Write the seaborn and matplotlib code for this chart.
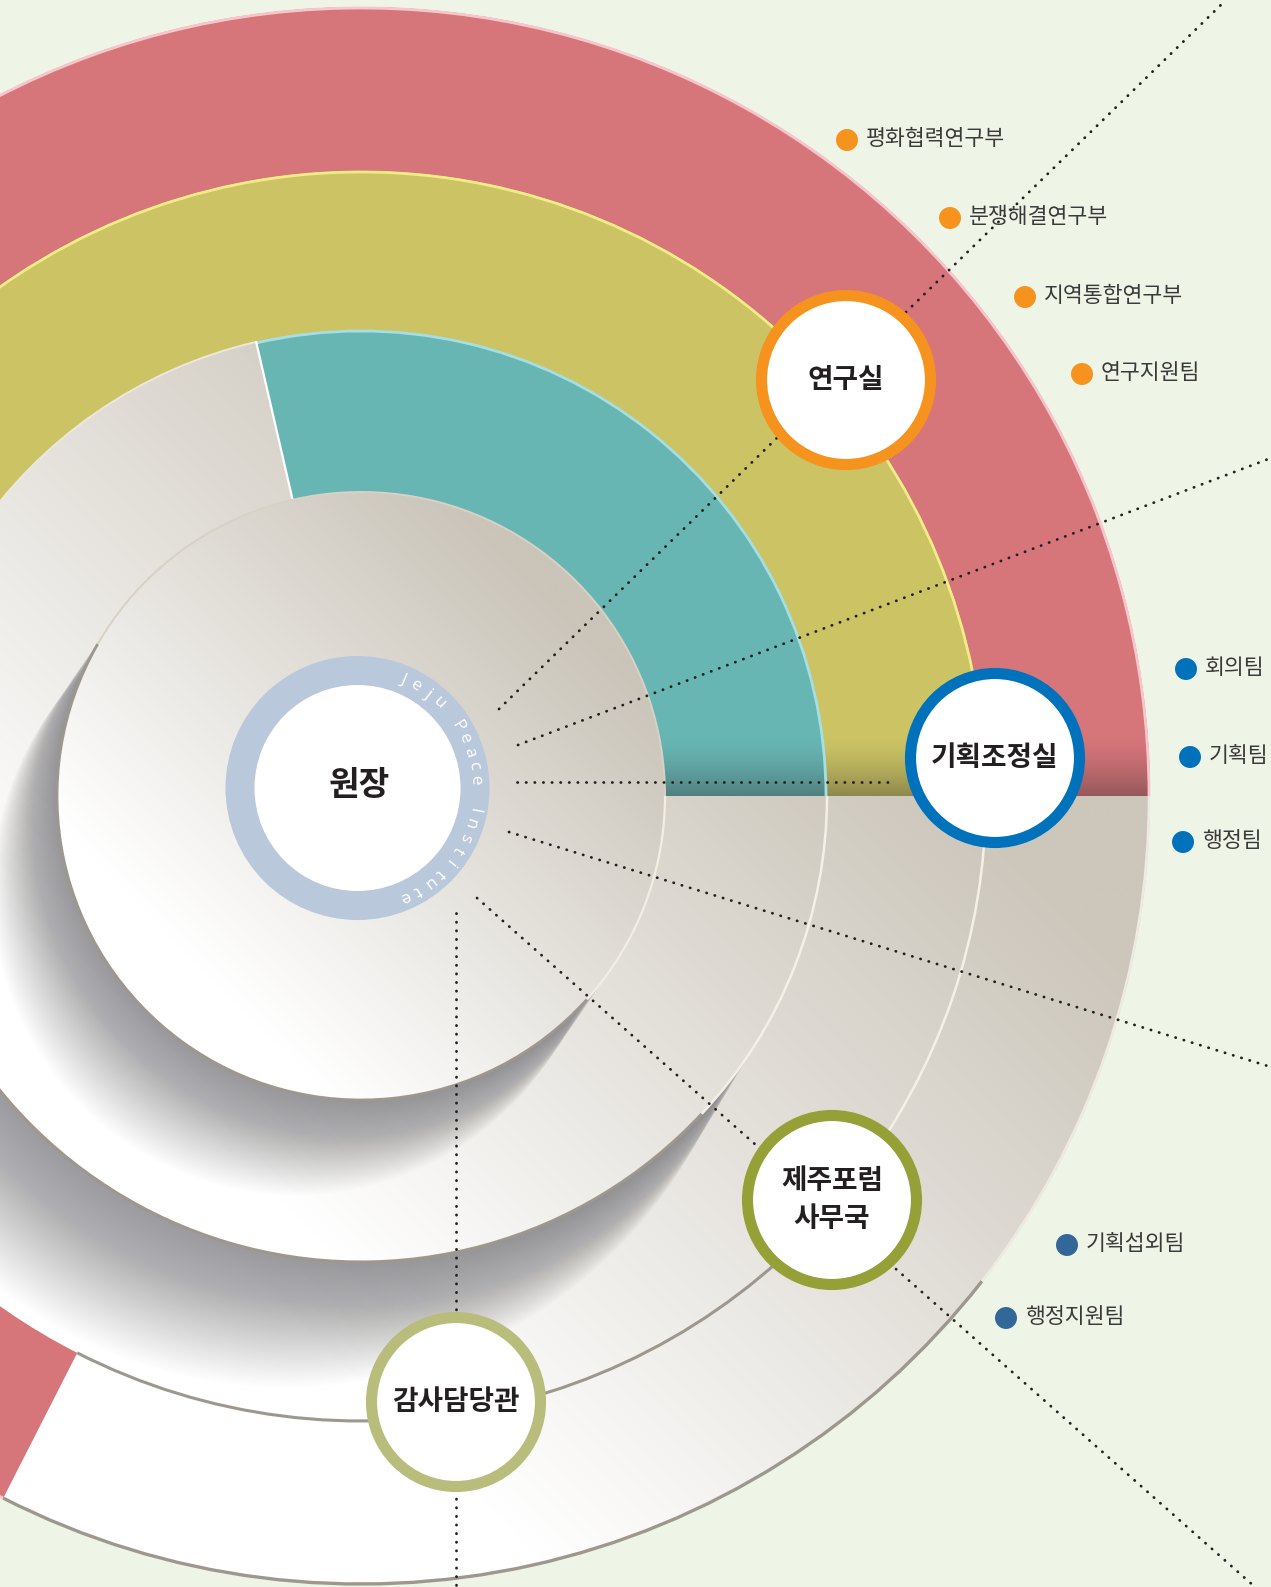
import numpy as np
import pandas as pd
import matplotlib.pyplot as plt
import seaborn as sns
from matplotlib.patches import Circle, Wedge, Arc

# 캔버스 / 중심
W, H = 1271, 1587
CX, CY = 361, 796
BG = '#eef4e6'

# 링 구조 (반지름, 색 구간 끝 각도)
sector_names = ['teal', 'yellow', 'red']
sector_inner = [304, 466, 625]
sector_outer = [466, 625, 789]
sector_end = [103, 180, 243]
sector_colors = ['#68b6b4', '#cbc364', '#d6757a']
sector_edges = ['#a6dfe2', '#f1ec86', '#f7c6ca']

# 부서 원
node_labels = ['연구실', '기획조정실', '제주포럼\n사무국', '감사담당관']
node_x = [846, 995, 832, 456]
node_y = [380, 758, 1200, 1402]
node_colors = ['#f6921e', '#0072bc', '#95a037', '#b9bd7c']

# 하위 팀
team_labels = ['평화협력연구부', '분쟁해결연구부', '지역통합연구부', '연구지원팀',
               '회의팀', '기획팀', '행정팀', '기획섭외팀', '행정지원팀']
team_x = [847, 950, 1025, 1082, 1186, 1190, 1183, 1067, 1006]
team_y = [140, 218, 297, 374, 669, 757, 842, 1245, 1318]
team_group = ['연구실'] * 4 + ['기획조정실'] * 3 + ['제주포럼'] * 2

# 점선 연결선
line_x0 = [499, 518, 517, 509, 477, 456]
line_y0 = [709, 745, 782, 832, 898, 913]
line_x1 = [1226, 1271, 894, 1271, 1255, 456]
line_y1 = [0, 458, 782, 1067, 1587, 1587]

sns.set_theme(style='white')
plt.rcParams['font.family'] = ['Noto Sans CJK KR', 'DejaVu Sans']

fig = plt.figure(figsize=(W / 100, H / 100), dpi=100, facecolor=BG)
ax = fig.add_axes([0, 0, 1, 1])
ax.set_facecolor(BG)

gx, gy = np.meshgrid(np.linspace(0, W, 420), np.linspace(0, H, 520))


def grad_img(p0, p1, light, dark):
    p = (gx - gy) / np.sqrt(2)
    t = np.clip((p - p0) / (p1 - p0), 0, 1)[..., None]
    a = np.array(plt.matplotlib.colors.to_rgb(light))
    b = np.array(plt.matplotlib.colors.to_rgb(dark))
    return (1 - t) * a + t * b


def paint(patch, img, z):
    patch.set_facecolor('none')
    patch.set_edgecolor('none')
    ax.add_patch(patch)
    im = ax.imshow(img, extent=(0, W, H, 0), origin='upper', zorder=z,
                   interpolation='bilinear', aspect='auto')
    im.set_clip_path(patch)


def wedge(r, a0, a1, width=None, **kw):
    # 화면 각도(반시계) -> 데이터 각도 (y축 반전)
    return Wedge((CX, CY), r, -a1, -a0, width=width, **kw)


def arc(r, a0, a1, color, lw, z):
    ax.add_patch(Arc((CX, CY), 2 * r, 2 * r, theta1=-a1, theta2=-a0,
                     color=color, lw=lw, zorder=z))


def wall(r, vx, vy, clip_r, z, n=60, a=0.013):
    clip = Circle((CX, CY), clip_r, fc='none', ec='none')
    ax.add_patch(clip)
    for t in np.linspace(1, 0.01, n):
        c = Circle((CX + vx * t, CY + vy * t), r, fc='#5a5a62', ec='none',
                   alpha=a, zorder=z)
        ax.add_patch(c)
        c.set_clip_path(clip)


# 바깥 판
paint(Circle((CX, CY), sector_outer[2]), grad_img(-720, 120, '#ffffff', '#ccc6bb'), 1)

# 빨강, 노랑 링
for i in [2, 1]:
    ax.add_patch(wedge(sector_outer[i], 0, sector_end[i],
                       width=sector_outer[i] - sector_inner[i],
                       fc=sector_colors[i], ec='none', zorder=2))
    arc(sector_outer[i] - 1, 0, sector_end[i], sector_edges[i], 2.0, 2.1)

# 2단 벽 그림자
wall(466, -75, 125, 625, 3)

# 2단 판
paint(Circle((CX, CY), 466), grad_img(-650, 60, '#ffffff', '#cdc7bc'), 4)
ax.add_patch(wedge(466, 0, sector_end[0], width=466 - 304,
                   fc=sector_colors[0], ec='none', zorder=5))
arc(465, 0, sector_end[0], sector_edges[0], 2.0, 5.1)
ang = np.deg2rad(sector_end[0])
ax.plot([CX + 304 * np.cos(ang), CX + 466 * np.cos(ang)],
        [CY - 304 * np.sin(ang), CY - 466 * np.sin(ang)],
        color='white', lw=1.6, zorder=5.2)

# 색 링 아래쪽 어둡게 (오른쪽만)
ov = np.zeros((520, 420, 4))
ov[..., 0:3] = 0.15
ov[..., 3] = (np.clip((gy - 735) / (796 - 735), 0, 1) ** 1.6) * 0.38 * (gx > CX)
for i, z in zip([2, 1, 0], [2.05, 2.05, 5.05]):
    p = wedge(sector_outer[i], 0, sector_end[i], width=sector_outer[i] - sector_inner[i])
    p.set_facecolor('none')
    p.set_edgecolor('none')
    ax.add_patch(p)
    im = ax.imshow(ov, extent=(0, W, H, 0), origin='upper', zorder=z,
                   interpolation='bilinear', aspect='auto')
    im.set_clip_path(p)

# 안쪽 원판 벽 그림자
wall(304, -65, 95, 466, 6)

# 안쪽 원판
paint(Circle((CX, CY), 304), grad_img(-540, -30, '#ffffff', '#cac4b9'), 7)

# 경계선
arc(304, 150, 318, '#9d978e', 2.0, 7.2)
arc(304, 318, 360, '#f2eee4', 1.6, 7.2)
arc(304, 0, 150, '#d8d1c5', 1.4, 7.2)
arc(466, 190, 317, '#9d978e', 2.2, 4.2)
arc(466, 317, 360, '#f4f0e6', 1.8, 4.2)
arc(466, 103, 190, '#ece8dc', 1.4, 4.2)
arc(625, 243, 322, '#9d978e', 2.2, 2.2)
arc(625, 322, 360, '#f4f0e6', 1.8, 2.2)
arc(788, 243, 322, '#9d978e', 2.4, 2.2)
arc(788, 322, 360, '#efe9e2', 1.8, 2.2)

# 점선
for x0, y0, x1, y1 in zip(line_x0, line_y0, line_x1, line_y1):
    ax.plot([x0, x1], [y0, y1], color='#231f20', lw=2.0,
            linestyle=(0, (0.1, 3.0)), dash_capstyle='round', zorder=9)

# 원장
ax.add_patch(Circle((357.5, 788), 132, fc='#bac8dc', ec='none', zorder=10))
ax.add_patch(Circle((357.5, 788), 103, fc='white', ec='none', zorder=10.1))
ax.text(359, 786, '원장', fontsize=24, fontweight='bold', color='#231f20',
        ha='center', va='center', zorder=11)
arc_text = 'Jeju Peace Institute'
for k, ch in enumerate(arc_text):
    a = 67 - k * 134 / (len(arc_text) - 1)
    r = np.deg2rad(a)
    ax.text(357.5 + 118 * np.cos(r), 788 - 118 * np.sin(r), ch,
            rotation=a - 90, rotation_mode='anchor', ha='center', va='center',
            fontsize=12.5, color='white', family=['Open Sans', 'DejaVu Sans'],
            zorder=11)

# 부서 원
for lab, x, y, c in zip(node_labels, node_x, node_y, node_colors):
    ax.add_patch(Circle((x, y), 84.5, fc='white', ec=c, lw=8.0, zorder=12))
    ax.text(x, y, lab, fontsize=20, fontweight='bold', color='#231f20',
            ha='center', va='center', linespacing=1.45, zorder=13)

# 하위 팀 점과 글자
teams = pd.DataFrame({'x': team_x, 'y': team_y, 'grp': team_group, 'label': team_labels})
sns.scatterplot(data=teams, x='x', y='y', hue='grp', ax=ax, s=250, linewidth=0,
                palette={'연구실': '#f6921e', '기획조정실': '#0072bc', '제주포럼': '#336699'},
                legend=False, zorder=14)
for _, row in teams.iterrows():
    ax.text(row['x'] + 19, row['y'] - 1, row['label'], fontsize=15.6,
            color='#3a3a3a', ha='left', va='center', zorder=14)

ax.set_xlim(0, W)
ax.set_ylim(H, 0)
ax.axis('off')

fig.savefig('out.png', dpi=100, facecolor=BG)
